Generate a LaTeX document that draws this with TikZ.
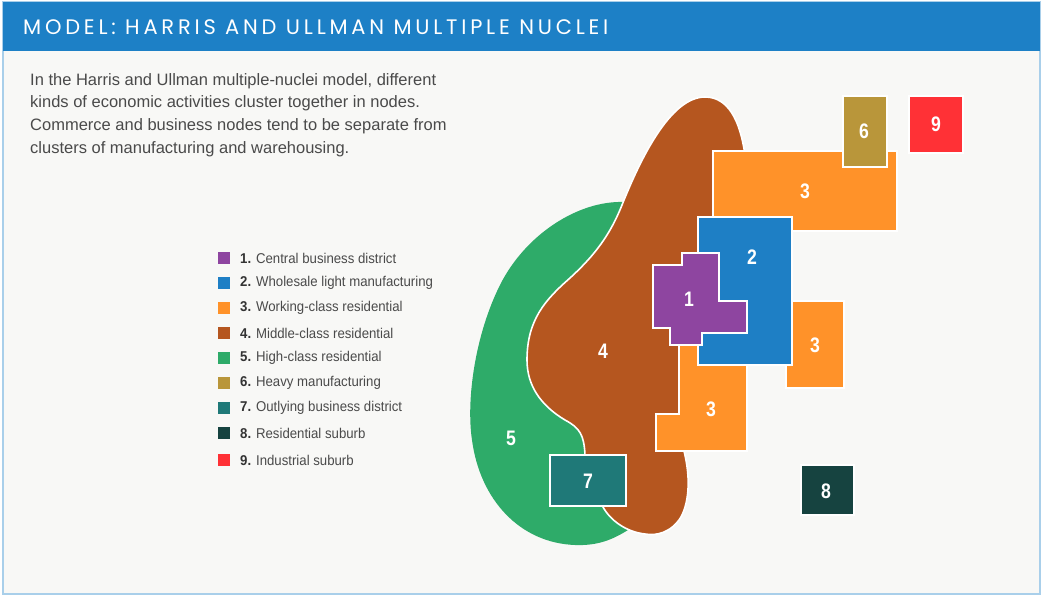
\documentclass[tikz,border=0pt]{standalone}
\usepackage{fontspec}
\setmainfont{Liberation Sans}
\newfontfamily\titlefont[LetterSpace=18]{Poppins}
\newfontfamily\narrowfont[FakeStretch=0.84]{Liberation Sans}
\newfontfamily\keyfont[FakeStretch=0.93]{Liberation Sans}
\usetikzlibrary{positioning}

\definecolor{headblue}{HTML}{1D80C6}
\definecolor{frameblue}{HTML}{A9CFEA}
\definecolor{paper}{HTML}{F8F8F6}
\definecolor{bodygray}{HTML}{4A4A4A}
\definecolor{cbd}{HTML}{8E45A0}
\definecolor{wholesale}{HTML}{1E7FC5}
\definecolor{working}{HTML}{FF9229}
\definecolor{middle}{HTML}{B5561F}
\definecolor{high}{HTML}{2EAB69}
\definecolor{heavy}{HTML}{B9963A}
\definecolor{outlying}{HTML}{1F7978}
\definecolor{suburb}{HTML}{164340}
\definecolor{industrial}{HTML}{FF3136}

\tikzset{
  zone/.style={draw=white, line width=1.6pt},
  zonelabel/.style={text=white, font=\narrowfont\bfseries\fontsize{21}{21}\selectfont},
  keybox/.style={minimum size=12pt, inner sep=0pt},
  keytext/.style={anchor=west, inner sep=0pt, text=bodygray,
    font=\keyfont\fontsize{14.2}{15}\selectfont},
}

\begin{document}
\begin{tikzpicture}[x=1pt, y=-1pt]
    \useasboundingbox (0,0) rectangle (1047,600);
    \fill[white] (0,0) rectangle (1047,600);

    % frame and header
    \fill[paper] (3,2) rectangle (1040,594);
    \draw[frameblue, line width=1.2pt] (3,2) rectangle (1040,594);
    \fill[headblue] (3,2) rectangle (1040,51);
    \node[anchor=west, text=white, inner sep=0pt,
      font=\titlefont\fontsize{21}{22}\selectfont] (title) at (23,27)
      {MODEL: HARRIS AND ULLMAN MULTIPLE NUCLEI};

    \node[anchor=north west, inner sep=0pt, align=left, text=bodygray,
      font=\fontsize{16.5}{22.7}\selectfont] (intro) at (30,73)
      {In the Harris and Ullman multiple-nuclei model, different\\
       kinds of economic activities cluster together in nodes.\\
       Commerce and business nodes tend to be separate from\\
       clusters of manufacturing and warehousing.};

    % legend
    \node[keybox, fill=cbd] (key1) at (224,258) {};
    \node[keytext] (keytext1) at (240,258) {\textbf{\color{black!80}1.} Central business district};
    \node[keybox, fill=wholesale] (key2) at (224,283) {};
    \node[keytext] (keytext2) at (240,283) {\textbf{\color{black!80}2.} Wholesale light manufacturing};
    \node[keybox, fill=working] (key3) at (224,308) {};
    \node[keytext] (keytext3) at (240,308) {\textbf{\color{black!80}3.} Working-class residential};
    \node[keybox, fill=middle] (key4) at (224,333) {};
    \node[keytext] (keytext4) at (240,333) {\textbf{\color{black!80}4.} Middle-class residential};
    \node[keybox, fill=high] (key5) at (224,358) {};
    \node[keytext] (keytext5) at (240,358) {\textbf{\color{black!80}5.} High-class residential};
    \node[keybox, fill=heavy] (key6) at (224,383) {};
    \node[keytext] (keytext6) at (240,383) {\textbf{\color{black!80}6.} Heavy manufacturing};
    \node[keybox, fill=outlying] (key7) at (224,408) {};
    \node[keytext] (keytext7) at (240,408) {\textbf{\color{black!80}7.} Outlying business district};
    \node[keybox, fill=suburb] (key8) at (224,433) {};
    \node[keytext] (keytext8) at (240,433) {\textbf{\color{black!80}8.} Residential suburb};
    \node[keybox, fill=industrial] (key9) at (224,460) {};
    \node[keytext] (keytext9) at (240,460) {\textbf{\color{black!80}9.} Industrial suburb};

    % high-class residential
    \fill[high] (640,230) -- (625,202)
      .. controls (578,200) and (525,235) .. (500,285)
      .. controls (475,335) and (466,400) .. (472,440)
      .. controls (480,500) and (520,543) .. (575,545)
      .. controls (600,546) and (615,538) .. (628,530)
      -- (660,480) -- cycle;

    % middle-class residential
    \filldraw[middle, zone] (705,97)
      .. controls (728,97) and (740,120) .. (745,155)
      -- (760,200) -- (740,300) -- (700,440) -- (684,451)
      .. controls (690,475) and (690,500) .. (681,517)
      .. controls (671,533) and (656,536) .. (645,534)
      .. controls (626,532) and (610,520) .. (603,507)
      -- (585,455)
      .. controls (584,435) and (580,428) .. (565,420)
      .. controls (540,405) and (527,385) .. (527,360)
      .. controls (527,320) and (545,300) .. (570,278)
      .. controls (595,255) and (610,235) .. (622,205)
      .. controls (640,160) and (670,97) .. (705,97) -- cycle;

    % the other zones
    \filldraw[working, zone] (713,151) rectangle (897,231);
    \filldraw[heavy, zone] (843,96) rectangle (887,167);
    \filldraw[industrial, zone] (909,96) rectangle (963,153);
    \filldraw[working, zone] (679,340) -- (747,340) -- (747,451)
      -- (656,451) -- (656,414) -- (679,414) -- cycle;
    \filldraw[working, zone] (786,301) rectangle (844,388);
    \filldraw[wholesale, zone] (698,217) rectangle (792,365);
    \filldraw[cbd, zone] (682,253) -- (719,253) -- (719,301) -- (747,301)
      -- (747,333) -- (702,333) -- (702,345) -- (670,345) -- (670,328)
      -- (653,328) -- (653,265) -- (682,265) -- cycle;
    \filldraw[outlying, zone] (550,455) rectangle (626,506);
    \filldraw[suburb, zone] (801,465) rectangle (854,515);

    % zone numbers
    \node[zonelabel] (cbdnum) at (689,299) {1};
    \node[zonelabel] (wholesalenum) at (752,257) {2};
    \node[zonelabel] (workingnumtop) at (805,191) {3};
    \node[zonelabel] (workingnumright) at (815,345) {3};
    \node[zonelabel] (workingnumlow) at (711,409) {3};
    \node[zonelabel] (middlenum) at (603,351) {4};
    \node[zonelabel] (highnum) at (511,438) {5};
    \node[zonelabel] (heavynum) at (864,131) {6};
    \node[zonelabel] (outlyingnum) at (588,481) {7};
    \node[zonelabel] (suburbnum) at (826,491) {8};
    \node[zonelabel] (industrialnum) at (936,124) {9};
\end{tikzpicture}
\end{document}
